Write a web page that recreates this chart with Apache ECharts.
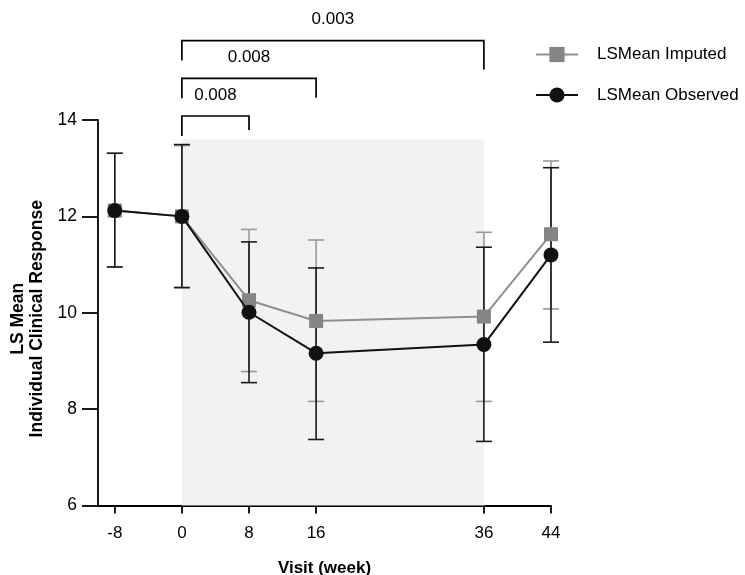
<!DOCTYPE html>
<html>
<head>
<meta charset="utf-8">
<script src="https://cdn.jsdelivr.net/npm/echarts@6/dist/echarts.min.js"></script>
<style>html,body{margin:0;padding:0;background:#fff}#c{width:745px;height:575px}</style>
</head>
<body>
<div id="c"></div>
<script>
// ---- data ----
var visits = [-8, 0, 8, 16, 36, 44];
var xTicks = [-8, 0, 8, 16, 36, 44];
var yTicks = [6, 8, 10, 12, 14];
var imputedMean  = [12.12, 12.00, 10.26, 9.83, 9.92, 11.63];
var imputedLow   = [10.95, 10.53, 8.78, 8.16, 8.16, 10.08];
var imputedHigh  = [13.31, 13.47, 11.73, 11.51, 11.67, 13.15];
var observedMean = [12.12, 12.00, 10.01, 9.16, 9.34, 11.20];
var observedLow  = [10.95, 10.52, 8.55, 7.37, 7.33, 9.39];
var observedHigh = [13.31, 13.49, 11.47, 10.93, 11.36, 13.01];
var shadedFrom = 0, shadedTo = 36, shadedTop = 13.6;
var comparisons = [[0, 8, '0.008'], [0, 16, '0.008'], [0, 36, '0.003']];

// ---- styles ----
var FONT = 'Liberation Sans, Arial, Helvetica, sans-serif';
var GRAY = '#858585', GRAY_BAR = '#999999', BLACK = '#111111';
var rightLeg = [14, 19.4, 29];

function pts(xs, ys) { return xs.map(function (x, i) { return [x, ys[i]]; }); }
function bars(xs, lo, hi) { return xs.map(function (x, i) { return [x, lo[i], hi[i]]; }); }

function errorBarRender(color) {
  return function (params, api) {
    var x = api.value(0);
    var a = api.coord([x, api.value(1)]);
    var b = api.coord([x, api.value(2)]);
    var hw = 8;
    var st = { stroke: color, lineWidth: 1.6 };
    return { type: 'group', children: [
      { type: 'line', shape: { x1: a[0], y1: a[1], x2: b[0], y2: b[1] }, style: st },
      { type: 'line', shape: { x1: a[0] - hw, y1: a[1], x2: a[0] + hw, y2: a[1] }, style: st },
      { type: 'line', shape: { x1: b[0] - hw, y1: b[1], x2: b[0] + hw, y2: b[1] }, style: st }
    ]};
  };
}

var chart = echarts.init(document.getElementById('c'));
chart.setOption({
  animation: false,
  grid: { left: 98, right: 194, top: 120, bottom: 69.5, containLabel: false, outerBoundsMode: 'none' },
  legend: {
    orient: 'vertical', left: 530, top: 41,
    itemWidth: 42, itemHeight: 19, itemGap: 23.5,
    data: ['LSMean Imputed', 'LSMean Observed'],
    textStyle: { fontFamily: FONT, fontSize: 17, color: '#000', padding: [0, 0, 0, 14] }
  },
  xAxis: {
    type: 'value', min: -10, max: 44,
    name: 'Visit (week)', nameLocation: 'middle', nameGap: 54,
    nameTextStyle: { fontFamily: FONT, fontSize: 17, fontWeight: 'bold', color: '#000' },
    axisLine: { show: true, onZero: false, lineStyle: { color: '#000', width: 1.8 } },
    axisTick: { show: true, customValues: xTicks, length: 8, lineStyle: { color: '#000', width: 1.8 } },
    axisLabel: { customValues: xTicks, margin: 19, fontFamily: FONT, fontSize: 17, color: '#000' },
    splitLine: { show: false }
  },
  yAxis: {
    type: 'value', min: 6, max: 14, interval: 2,
    name: 'LS Mean\nIndividual Clinical Response', nameLocation: 'middle', nameRotate: 90, nameGap: 52,
    nameTextStyle: { fontFamily: FONT, fontSize: 17.5, fontWeight: 'bold', color: '#000', lineHeight: 18.5, align: 'center', padding: [0, 12, 0, 0] },
    axisLine: { show: true, onZero: false, lineStyle: { color: '#000', width: 1.8 } },
    axisTick: { show: true, length: 16, lineStyle: { color: '#000', width: 1.8 } },
    axisLabel: { margin: 21, fontFamily: FONT, fontSize: 17.5, color: '#000', customValues: yTicks },
    splitLine: { show: false }
  },
  series: [
    {
      type: 'line', name: 'shade', data: [], z: 1, silent: true,
      markArea: { silent: true, itemStyle: { color: '#f2f2f2' },
        data: [[{ xAxis: shadedFrom, yAxis: 6 }, { xAxis: shadedTo, yAxis: shadedTop }]] }
    },
    {
      type: 'custom', name: 'imputedErr', z: 2, clip: false,
      data: bars(visits, imputedLow, imputedHigh),
      encode: { x: 0, y: [1, 2] },
      renderItem: errorBarRender(GRAY_BAR)
    },
    {
      type: 'custom', name: 'observedErr', z: 3, clip: false,
      data: bars(visits, observedLow, observedHigh),
      encode: { x: 0, y: [1, 2] },
      renderItem: errorBarRender('#1a1a1a')
    },
    {
      type: 'line', name: 'LSMean Imputed', z: 4,
      data: pts(visits, imputedMean),
      symbol: 'rect', symbolSize: 14, showAllSymbol: true,
      itemStyle: { color: GRAY, opacity: 1 },
      lineStyle: { color: '#8f8f8f', width: 2 }
    },
    {
      type: 'line', name: 'LSMean Observed', z: 5,
      data: pts(visits, observedMean),
      symbol: 'circle', symbolSize: 15, showAllSymbol: true,
      itemStyle: { color: BLACK, opacity: 1 },
      lineStyle: { color: BLACK, width: 2 }
    },
    {
      type: 'custom', name: 'brackets', z: 6, clip: false, silent: true,
      data: comparisons.map(function (c, i) { return [c[0], c[1], i]; }),
      encode: { x: [0, 1] },
      renderItem: function (params, api) {
        var i = api.value(2);
        var x1 = api.coord([api.value(0), 14])[0];
        var x2 = api.coord([api.value(1), 14])[0];
        var y14 = api.coord([0, 14])[1];
        var top = y14 - 4 - i * 37.7;
        var st = { stroke: '#000', lineWidth: 1.7, fill: null };
        return { type: 'group', children: [
          { type: 'polyline', shape: { points: [[x1, top + 20], [x1, top], [x2, top], [x2, top + rightLeg[i]]] }, style: st },
          { type: 'text', style: { text: comparisons[i][2], x: (x1 + x2) / 2, y: top - 21,
            align: 'center', verticalAlign: 'middle', fontFamily: FONT, fontSize: 17, fill: '#000' } }
        ]};
      }
    }
  ]
});
</script>
</body>
</html>
